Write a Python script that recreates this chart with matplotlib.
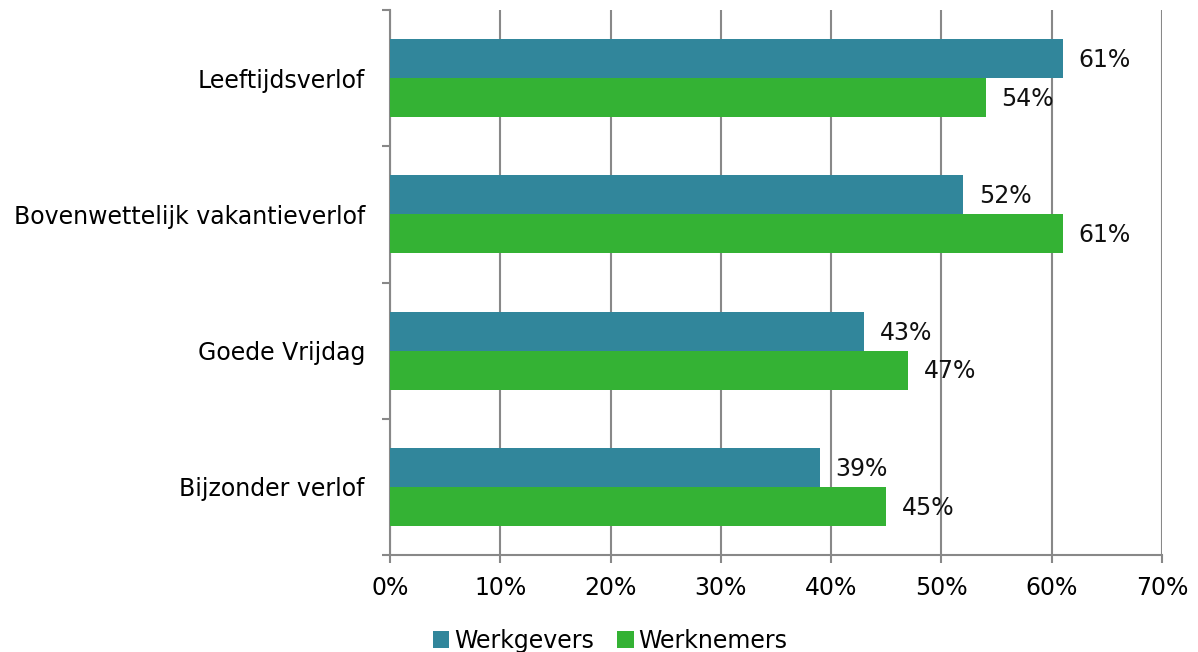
import matplotlib.pyplot as plt
import numpy as np
from matplotlib.ticker import PercentFormatter

categories = ['Leeftijdsverlof', 'Bovenwettelijk vakantieverlof', 'Goede Vrijdag', 'Bijzonder verlof']
werkgevers = [61, 52, 43, 39]
werknemers = [54, 61, 47, 45]
series_names = ['Werkgevers', 'Werknemers']
colors = ['#31869B', '#34B234']


def main():
    fig = plt.figure(figsize=(11.98, 6.52), dpi=100)
    ax = fig.add_axes([390 / 1198, 1 - 555 / 652, (1162 - 390) / 1198, (555 - 10) / 652])

    y = np.arange(len(categories))[::-1]  # top category first
    h = 0.286  # bar height
    fs = 17

    rects1 = ax.barh(y + h / 2, werkgevers, h, color=colors[0], label=series_names[0], zorder=3)
    rects2 = ax.barh(y - h / 2, werknemers, h, color=colors[1], label=series_names[1], zorder=3)

    for rects in (rects1, rects2):
        for r in rects:
            w = r.get_width()
            ax.annotate('{}%'.format(w),
                        xy=(w, r.get_y() + r.get_height() / 2),
                        xytext=(11, -1), textcoords='offset points',
                        ha='left', va='center', fontsize=fs, color='#111111')

    ax.set_xlim(0, 70)
    ax.set_ylim(-0.5, len(categories) - 0.5)
    ax.set_xticks(range(0, 71, 10))
    ax.xaxis.set_major_formatter(PercentFormatter(decimals=0))

    # category labels at centres, tick marks at boundaries
    ax.set_yticks(y)
    ax.set_yticklabels(categories)
    ax.set_yticks(np.arange(-0.5, len(categories), 1), minor=True)
    ax.tick_params(axis='y', which='major', length=0, pad=18, labelsize=fs)
    ax.tick_params(axis='y', which='minor', length=6, width=1.5, color='#888888')
    ax.tick_params(axis='x', length=6, width=1.5, color='#888888', pad=9, labelsize=fs)

    ax.grid(axis='x', color='#888888', linewidth=1.5, zorder=0)
    for s in ('top', 'right'):
        ax.spines[s].set_visible(False)
    for s in ('left', 'bottom'):
        ax.spines[s].set_color('#888888')
        ax.spines[s].set_linewidth(1.5)

    fig.legend(loc='center', bbox_to_anchor=(610 / 1198, 1 - 641 / 652), ncol=2,
               frameon=False, fontsize=fs, handlelength=0.7, handleheight=0.7,
               handletextpad=0.2, columnspacing=1.0)

    fig.savefig('out.png', dpi=100)


if __name__ == "__main__":
    main()
